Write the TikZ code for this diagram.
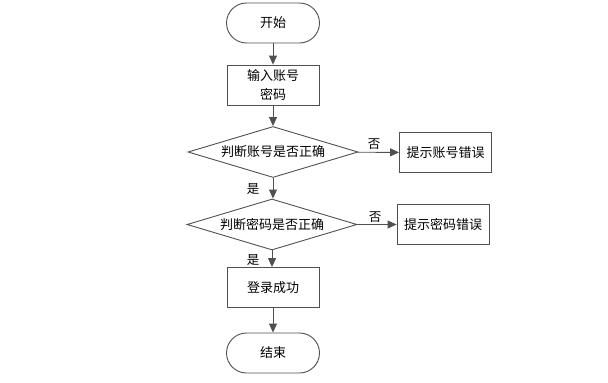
\documentclass[tikz,border=0pt]{standalone}
\usepackage{fontspec}
\setmainfont{Noto Sans CJK SC}
\usetikzlibrary{shapes.geometric,arrows.meta}
\definecolor{ln}{HTML}{505050}
\tikzset{
  base/.style={draw=ln, line width=0.9pt, font=\fontsize{13}{18.5}\selectfont, inner sep=0pt, align=center},
  term/.style={base, rounded corners=20pt, minimum width=93pt, minimum height=40pt},
  proc/.style={base, minimum width=92pt, minimum height=40pt},
  dec/.style={base, diamond, aspect=3.36, minimum width=170pt, minimum height=51pt},
  arr/.style={draw=ln, line width=0.9pt, -{Triangle[length=9pt,width=8pt]}},
  lab/.style={font=\fontsize{12.5}{14}\selectfont, inner sep=0pt}
}
\begin{document}
\begin{tikzpicture}[x=1pt,y=-1pt]
\useasboundingbox (0,0) rectangle (608,383);
\node[term] (start) at (273,23) {开始};
\node[proc] (input) at (273,85) {输入账号\\密码};
\node[dec] (d1) at (273,152) {判断账号是否正确};
\node[proc] (e1) at (445.5,152.5) {提示账号错误};
\node[dec] (d2) at (272,224.5) {判断密码是否正确};
\node[proc] (e2) at (443,224.5) {提示密码错误};
\node[proc] (ok) at (273,287.5) {登录成功};
\node[term] (stop) at (273,353) {结束};
\draw[arr] (start) -- (input);
\draw[arr] (input) -- (d1);
\draw[arr] (d1) -- (e1) node[lab, pos=0.4, above=2pt] (n1) {否};
\draw[arr] (d1.south) -- (d1.south |- d2.north) coordinate (c1);
\node[lab] (y1) at (253,189) {是};
\draw[arr] (d2) -- (e2) node[lab, pos=0.45, above=2pt] (n2) {否};
\draw[arr] (d2.south) -- (d2.south |- ok.north);
\node[lab] (y2) at (253,260) {是};
\draw[arr] (ok) -- (stop);
\end{tikzpicture}
\end{document}
